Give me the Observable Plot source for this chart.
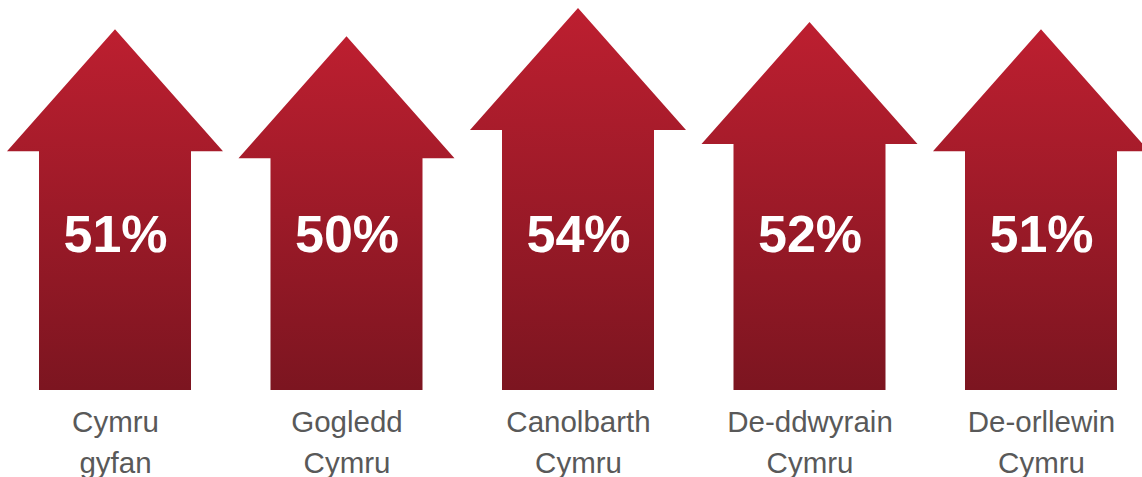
<!DOCTYPE html>
<html>
<head>
<meta charset="utf-8">
<script src="https://cdn.jsdelivr.net/npm/d3@7"></script>
<script src="https://cdn.jsdelivr.net/npm/@observablehq/plot@0.6"></script>
<style>
  html, body { margin: 0; padding: 0; background: #ffffff; }
  #chart svg { display: block; }
</style>
</head>
<body>
<div id="chart"></div>
<script>
const categories = ["Cymru gyfan", "Gogledd Cymru", "Canolbarth Cymru", "De-ddwyrain Cymru", "De-orllewin Cymru"];
const labelTexts = ["Cymru\ngyfan", "Gogledd\nCymru", "Canolbarth\nCymru", "De-ddwyrain\nCymru", "De-orllewin\nCymru"];
const values = [51, 50, 54, 52, 51];

const data = categories.map((c, i) => ({cat: c, value: values[i], label: labelTexts[i]}));

function arrowRender(index, scales, vals) {
  const bw = scales.x.bandwidth();
  const g = d3.create("svg:g");
  const grad = g.append("defs").append("linearGradient")
    .attr("id", "arrowGrad").attr("x1", 0).attr("y1", 0).attr("x2", 0).attr("y2", 1);
  grad.append("stop").attr("offset", "0%").attr("stop-color", "#bd1f30");
  grad.append("stop").attr("offset", "100%").attr("stop-color", "#7c1520");
  const headHalf = bw * 108 / 152;
  const headH = bw * 122 / 152;
  for (const i of index) {
    const x0 = vals.x[i], x1 = x0 + bw, cx = x0 + bw / 2;
    const yTop = Math.min(vals.y1[i], vals.y2[i]);
    const yBot = Math.max(vals.y1[i], vals.y2[i]);
    const yHead = yTop + headH;
    const p = d3.path();
    p.moveTo(cx, yTop);
    p.lineTo(cx + headHalf, yHead);
    p.lineTo(x1, yHead);
    p.lineTo(x1, yBot);
    p.lineTo(x0, yBot);
    p.lineTo(x0, yHead);
    p.lineTo(cx - headHalf, yHead);
    p.closePath();
    g.append("path").attr("d", p.toString()).attr("fill", "url(#arrowGrad)");
  }
  return g.node();
}

const chart = Plot.plot({
  width: 1142,
  height: 477,
  margin: 0,
  style: {fontFamily: "'Liberation Sans', Arial, sans-serif", background: "#ffffff"},
  x: {domain: categories, range: [-0.75, 1156.75], paddingInner: 0.3434, paddingOuter: 0.1717, round: false, axis: null},
  y: {domain: [0, 55.12], range: [390, 0], axis: null},
  marks: [
    Plot.barY(data, {x: "cat", y: "value", render: arrowRender}),
    Plot.text(data, {x: "cat", text: d => d.value + "%", frameAnchor: "top", dy: 235,
      lineAnchor: "middle", fontSize: 52, fontWeight: "bold", fill: "#ffffff"}),
    Plot.text(data, {x: "cat", text: "label", frameAnchor: "top", dy: 403,
      lineAnchor: "top", lineHeight: 1.38, fontSize: 29.5, fill: "#595959"})
  ]
});
document.getElementById("chart").appendChild(chart);
</script>
</body>
</html>
